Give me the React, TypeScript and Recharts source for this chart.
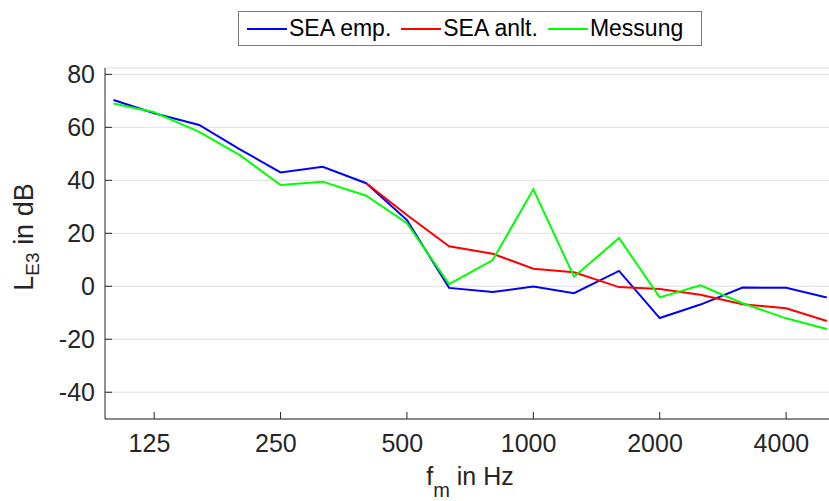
import { LineChart, Line, XAxis, YAxis, CartesianGrid, Legend } from 'recharts';

// third-octave band centre frequencies (Hz)
const freqs = [100, 125, 160, 200, 250, 315, 400, 500, 630, 800, 1000, 1250, 1600, 2000, 2500, 3150, 4000, 5000];
const seaEmp = [70.3, 65.3, 60.9, 51.7, 43.0, 45.1, 38.9, 25.0, -0.6, -2.2, -0.1, -2.6, 5.8, -12.0, -6.9, -0.5, -0.6, -4.2];
const seaAnlt = [null, null, null, null, null, null, 38.9, 26.9, 15.1, 12.3, 6.6, 5.3, -0.3, -1.0, -3.2, -6.8, -8.3, -13.1];
const messung = [69.0, 65.7, 58.3, 49.5, 38.2, 39.5, 34.2, 23.8, 0.8, 9.9, 36.6, 3.6, 18.2, -4.2, 0.4, -6.4, -12.1, -16.1];

const xTicks = [125, 250, 500, 1000, 2000, 4000];
const yTicks = [-40, -20, 0, 20, 40, 60, 80];

const series = [
    { key: 'seaEmp', name: 'SEA emp.', color: '#0000ff' },
    { key: 'seaAnlt', name: 'SEA anlt.', color: '#ff0000' },
    { key: 'messung', name: 'Messung', color: '#00ff00' },
];

const data = freqs.map((f, i) => ({
    f,
    seaEmp: seaEmp[i],
    seaAnlt: seaAnlt[i],
    messung: messung[i],
}));

const FONT = '"Liberation Sans", Arial, Helvetica, sans-serif';
const INK = '#262626';

const BottomTick = ({ x, y, payload }: any) => (
    <g>
        <line x1={x} x2={x} y1={y} y2={y - 7} stroke={INK} />
        <text x={x - 4.7} y={y + 33} textAnchor="middle" fontSize={25} fill={INK} fontFamily={FONT}>
            {payload.value}
        </text>
    </g>
);

const TopTick = ({ x, y }: any) => <line x1={x} x2={x} y1={y} y2={y + 7} stroke={INK} />;

const LeftTick = ({ x, y, payload }: any) => (
    <g>
        <line x1={x} x2={x + 7} y1={y} y2={y} stroke={INK} />
        <text x={x - 10} y={y + 9} textAnchor="end" fontSize={25} fill={INK} fontFamily={FONT}>
            {payload.value}
        </text>
    </g>
);

const XLabel = ({ viewBox }: any) => {
    const cx = viewBox.x + viewBox.width / 2;
    return (
        <text x={cx} y={485} textAnchor="middle" fontSize={25} fill={INK} fontFamily={FONT}>
            f<tspan dy={12} fontSize={20}>m</tspan>
            <tspan dy={-12}> in Hz</tspan>
        </text>
    );
};

const YLabel = () => (
    <text transform="translate(33, 237) rotate(-90)" textAnchor="middle" fontSize={27} fill={INK} fontFamily={FONT}>
        L<tspan dy={6} fontSize={19}>E3</tspan>
        <tspan dy={-6}> in dB</tspan>
    </text>
);

const renderLegend = () => (
    <div
        style={{
            boxSizing: 'border-box',
            width: 464,
            height: 35,
            border: '1px solid #7a7a7a',
            background: '#fff',
            display: 'flex',
            alignItems: 'center',
            paddingLeft: 8,
            fontFamily: FONT,
            fontSize: 23,
            color: '#000',
            whiteSpace: 'nowrap',
        }}
    >
        {series.map((s) => (
            <div key={s.key} style={{ display: 'flex', alignItems: 'center', marginRight: 10 }}>
                <span style={{ display: 'inline-block', width: 40, height: 2, background: s.color, marginRight: 2 }} />
                <span>{s.name}</span>
            </div>
        ))}
    </div>
);

const App = () => {
    return (
        <div style={{ position: 'absolute', left: 0, top: 0, width: 829, height: 501, overflow: 'hidden', background: '#fff' }}>
            <LineChart width={835} height={501} data={data} margin={{ top: 68, right: 0, bottom: 0, left: 0 }}>
                <CartesianGrid vertical={false} stroke="#e0e0e0" />
                <XAxis
                    dataKey="f"
                    type="number"
                    scale="log"
                    domain={[95.45, 5230]}
                    allowDataOverflow
                    ticks={xTicks}
                    height={82}
                    tickSize={0}
                    tickMargin={0}
                    tickLine={false}
                    axisLine={{ stroke: INK }}
                    tick={<BottomTick />}
                    interval={0}
                    label={<XLabel />}
                />
                <XAxis
                    xAxisId="top"
                    orientation="top"
                    dataKey="f"
                    type="number"
                    scale="log"
                    domain={[95.45, 5230]}
                    allowDataOverflow
                    ticks={xTicks}
                    height={0}
                    tickSize={0}
                    tickMargin={0}
                    tickLine={false}
                    axisLine={{ stroke: INK }}
                    tick={<TopTick />}
                    interval={0}
                />
                <YAxis
                    type="number"
                    domain={[-50.1, 82.4]}
                    allowDataOverflow
                    ticks={yTicks}
                    width={105}
                    tickSize={0}
                    tickMargin={0}
                    tickLine={false}
                    axisLine={{ stroke: INK }}
                    tick={<LeftTick />}
                    interval={0}
                    label={<YLabel />}
                />
                <Legend
                    layout="horizontal"
                    verticalAlign="middle"
                    align="center"
                    content={renderLegend}
                    wrapperStyle={{ top: 11, left: 238, width: 464, height: 35 }}
                />
                {series.map((s) => (
                    <Line
                        key={s.key}
                        dataKey={s.key}
                        name={s.name}
                        stroke={s.color}
                        strokeWidth={2}
                        dot={false}
                        activeDot={false}
                        isAnimationActive={false}
                    />
                ))}
            </LineChart>
        </div>
    );
};

export default App;
